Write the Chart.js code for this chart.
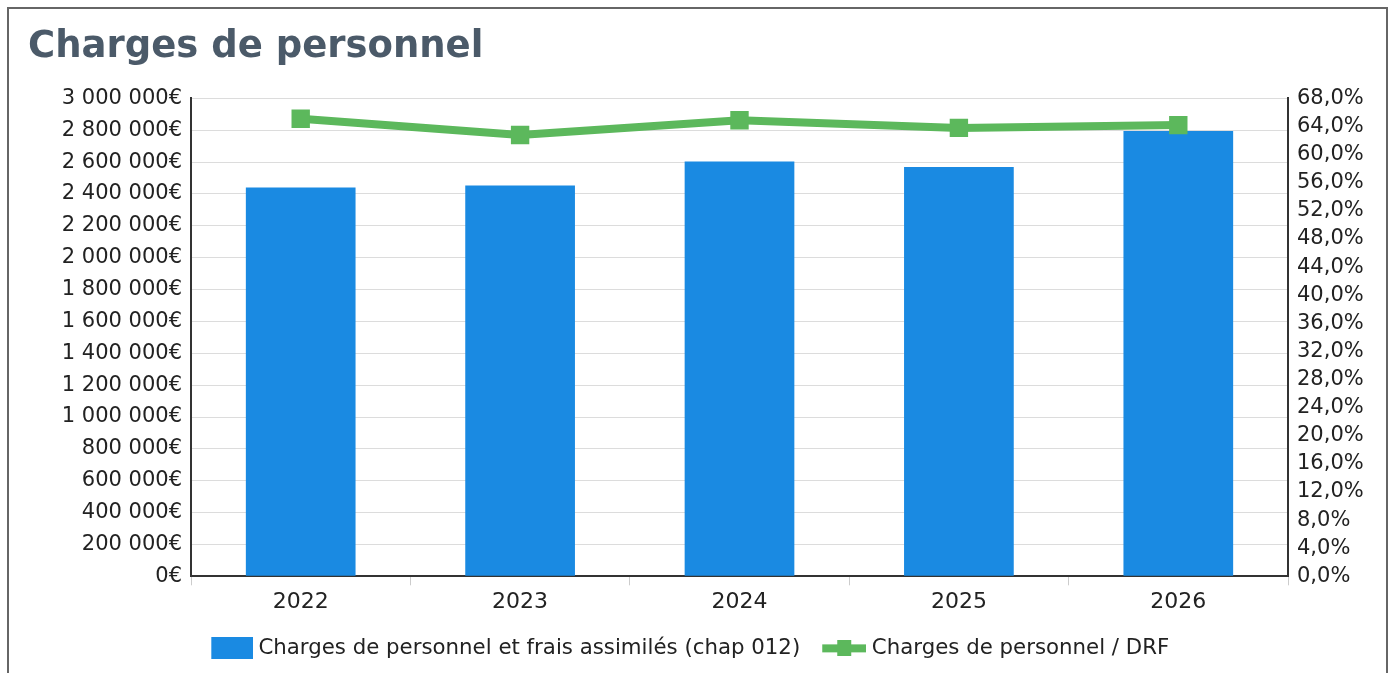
<!DOCTYPE html>
<html>
<head>
<meta charset="utf-8">
<script src="https://cdn.jsdelivr.net/npm/chart.js@4/dist/chart.umd.min.js"></script>
<style>
  body { margin: 0; background: #fff; }
  #frame { position: absolute; left: 7px; top: 7px; width: 1377px; height: 700px; border: 2px solid #666; }
  #chart { position: absolute; left: 0; top: 0; }
</style>
</head>
<body>
<div id="frame"></div>
<canvas id="chart" width="1392" height="673"></canvas>
<script>
var years = ["2022", "2023", "2024", "2025", "2026"];
var charges = [2441000, 2454000, 2604000, 2569000, 2795000];
var ratioDRF = [65.1, 62.8, 64.9, 63.8, 64.2];

var barColor = "#1a8ae2";
var lineColor = "#5cb85c";
var font = "'DejaVu Sans', Verdana, sans-serif";

function euros(v) {
  return String(v).replace(/\B(?=(\d{3})+(?!\d))/g, " ") + "€";
}
function pct(v) {
  return v.toFixed(1).replace(".", ",") + "%";
}

// legend icons (transparent margin on the left to place the symbol)
function barIcon() {
  var c = document.createElement("canvas");
  c.width = 54; c.height = 22;
  var g = c.getContext("2d");
  g.fillStyle = barColor;
  g.fillRect(12, 0, 42, 22);
  return c;
}
function lineIcon() {
  var c = document.createElement("canvas");
  c.width = 53; c.height = 16;
  var g = c.getContext("2d");
  g.fillStyle = lineColor;
  g.fillRect(9, 4, 44, 8);
  g.fillRect(24, 0, 14, 16);
  return c;
}

// legend sits a bit left of the canvas centre in the original
var legendShift = {
  id: "legendShift",
  afterLayout: function (chart) {
    chart.legend.left -= 23;
    chart.legend.right -= 23;
  }
};

var ctx = document.getElementById("chart").getContext("2d");
var chart = new Chart(ctx, {
  type: "bar",
  data: {
    labels: years,
    datasets: [
      {
        label: "Charges de personnel et frais assimilés (chap 012)",
        data: charges,
        backgroundColor: barColor,
        yAxisID: "y",
        order: 2,
        barPercentage: 0.5,
        categoryPercentage: 1
      },
      {
        type: "line",
        label: "Charges de personnel / DRF",
        data: ratioDRF,
        borderColor: lineColor,
        backgroundColor: lineColor,
        borderWidth: 8,
        pointStyle: "rect",
        pointRadius: 13,
        pointHoverRadius: 13,
        pointBorderWidth: 0,
        pointBackgroundColor: lineColor,
        yAxisID: "y1",
        order: 1,
        tension: 0
      }
    ]
  },
  plugins: [legendShift],
  options: {
    responsive: false,
    animation: false,
    devicePixelRatio: 1,
    layout: { padding: { left: 28, right: 0, top: 14, bottom: 4 } },
    plugins: {
      title: {
        display: true,
        text: "Charges de personnel",
        align: "start",
        color: "#4b5a69",
        font: { family: font, size: 37, weight: "bold" },
        padding: { top: 11, bottom: 29 }
      },
      legend: {
        position: "bottom",
        labels: {
          usePointStyle: true,
          pointStyleWidth: 43,
          color: "#222",
          font: { family: font, size: 21.3 },
          padding: 18,
          generateLabels: function (chart) {
            return chart.data.datasets.map(function (ds, i) {
              return {
                text: ds.label,
                pointStyle: i === 0 ? barIcon() : lineIcon(),
                fillStyle: ds.backgroundColor,
                strokeStyle: ds.backgroundColor,
                lineWidth: 0,
                fontColor: "#222",
                hidden: false,
                datasetIndex: i
              };
            });
          }
        }
      },
      tooltip: { enabled: false }
    },
    scales: {
      x: {
        offset: true,
        grid: { drawOnChartArea: false, drawTicks: true, tickLength: 9, color: "#ccc" },
        border: { color: "#333", width: 2 },
        ticks: { color: "#222", font: { family: font, size: 22 }, padding: 4 }
      },
      y: {
        position: "left",
        min: 0,
        max: 3000000,
        afterFit: function (s) { s.width = 163; },
        ticks: { stepSize: 200000, autoSkip: false, callback: euros, color: "#222", font: { family: font, size: 21 }, padding: 9 },
        grid: { color: "#dcdcdc", drawTicks: false },
        border: { color: "#333", width: 2 }
      },
      y1: {
        position: "right",
        min: 0,
        max: 68,
        afterFit: function (s) { s.width = 104; },
        ticks: { stepSize: 4, autoSkip: false, callback: pct, color: "#222", font: { family: font, size: 21 }, padding: 9 },
        grid: { drawOnChartArea: false, drawTicks: false },
        border: { color: "#333", width: 2 }
      }
    }
  }
});
</script>
</body>
</html>
